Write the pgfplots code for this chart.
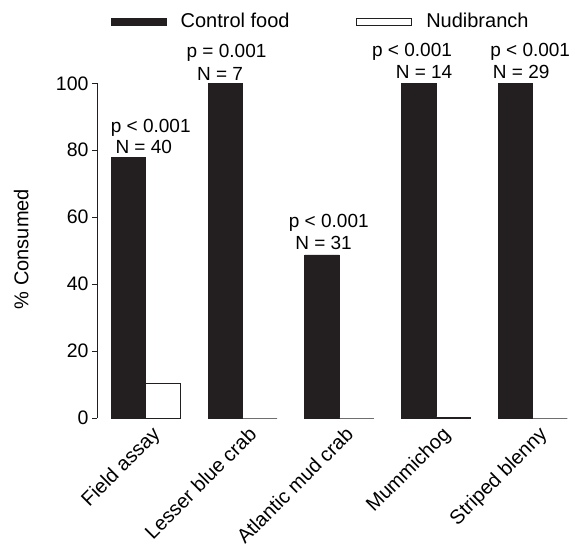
\documentclass[border=0pt]{standalone}
\usepackage{pgfplots}
\pgfplotsset{compat=1.18}
\usepackage{fontspec}
\setmainfont{Liberation Sans}
\definecolor{barblack}{HTML}{231F20}
\begin{document}
\begin{tikzpicture}
\useasboundingbox (0,0) rectangle (575pt,548pt);
\begin{axis}[
  at={(97pt,130pt)}, anchor=south west,
  scale only axis, width=477pt, height=334.7pt,
  xmin=-0.504, xmax=4.426, ymin=0, ymax=100,
  axis lines*=left,
  x axis line style={draw=none},
  xtick={0,1,2,3,4},
  xticklabels={Field assay,Lesser blue crab,Atlantic mud crab,Mummichog,Striped blenny},
  xtick style={draw=none},
  xticklabel style={rotate=45, anchor=north east, inner sep=1pt, xshift=3pt, yshift=-4pt, font=\fontsize{20}{24}\selectfont},
  ytick={0,20,40,60,80,100},
  ytick style={line width=0.9pt, barblack},
  tick align=outside, major tick length=5pt,
  axis line style={line width=0.9pt, barblack},
  yticklabel style={font=\fontsize{19.5}{23}\selectfont},
  ylabel={\% Consumed},
  ylabel style={at={(axis description cs:-0.159,0.505)}, anchor=center, font=\fontsize{20}{24}\selectfont},
  /pgf/number format/assume math mode=true,
  clip=false,
  ybar, bar width=34.5pt,
  legend style={draw=none, fill=none, at={(axis description cs:0.0285,1.1847)}, anchor=west,
    legend columns=2, font=\fontsize{20}{24}\selectfont, inner sep=0pt, outer sep=0pt,
    nodes={inner sep=0pt, outer sep=0pt},
    /tikz/every even column/.append style={column sep=66.6pt}},
  legend image code/.code={\draw[#1, line width=0.9pt] (0pt,-3.5pt) rectangle (55pt,3.5pt);
    \path[draw=none, fill=none] (0pt,0pt) -- (69.6pt,0pt);},
]
\addplot[bar shift=-17.25pt, fill=barblack, draw=barblack, line width=0.9pt]
  coordinates {(0,77.8) (1,100) (2,48.7) (3,100) (4,100)};
\addplot[bar shift=17.25pt, fill=white, draw=barblack, line width=0.9pt]
  coordinates {(0,10.4) (1,0) (2,0) (3,0.3) (4,0)};
\legend{Control food,Nudibranch}
\tikzset{ann/.style={font=\fontsize{19}{23}\selectfont, anchor=base, inner sep=0pt}}
\node[ann, xshift=5pt,   yshift=25pt]  at (axis cs:0,77.8) {p < 0.001};
\node[ann, xshift=-2pt,  yshift=4.5pt] at (axis cs:0,77.8) {N = 40};
\node[ann, xshift=-16pt, yshift=26pt]  at (axis cs:1,100) {p = 0.001};
\node[ann, xshift=-22.5pt, yshift=3pt] at (axis cs:1,100) {N = 7};
\node[ann, xshift=-10.5pt, yshift=27pt] at (axis cs:2,48.7) {p < 0.001};
\node[ann, xshift=-15.7pt, yshift=5pt] at (axis cs:2,48.7) {N = 31};
\node[ann, xshift=-24pt, yshift=27pt]  at (axis cs:3,100) {p < 0.001};
\node[ann, xshift=-12pt, yshift=4.5pt] at (axis cs:3,100) {N = 14};
\node[ann, xshift=-2.6pt, yshift=27pt] at (axis cs:4,100) {p < 0.001};
\node[ann, xshift=-11.6pt, yshift=4.5pt] at (axis cs:4,100) {N = 29};
\end{axis}
\end{tikzpicture}
\end{document}
